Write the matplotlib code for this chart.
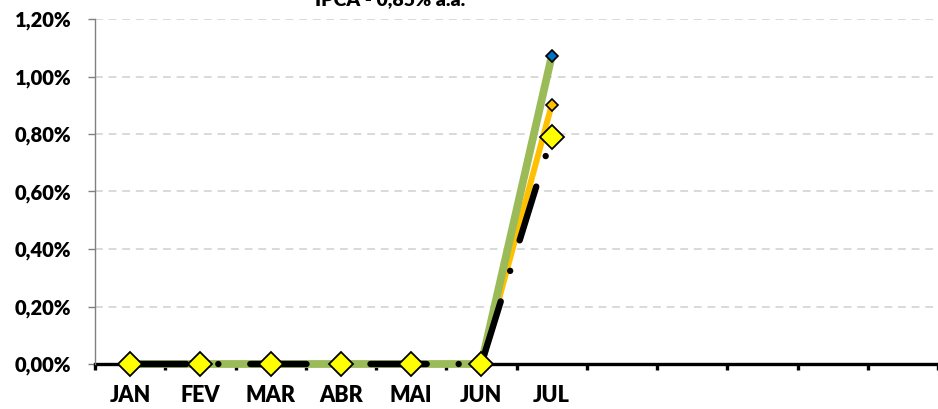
import numpy as np
import matplotlib.pyplot as plt
from matplotlib.ticker import FuncFormatter

meses = ['JAN', 'FEV', 'MAR', 'ABR', 'MAI', 'JUN', 'JUL', '', '', '', '', '']
verde = [0, 0, 0, 0, 0, 0, 1.07]
laranja = [0, 0, 0, 0, 0, 0, 0.90]
preto = [0, 0, 0, 0, 0, 0, 0.79]
titulo = 'IPCA - 0,85% a.a.'

plt.rcParams['font.family'] = ['Lato', 'DejaVu Sans']

fig = plt.figure(figsize=(9.38, 4.09), dpi=100)
ax = fig.add_axes([95/938, 1 - 364/409, 843/938, 345/409])

x = np.arange(len(verde)) + 0.5

ax.plot(x, laranja, color='#FFC000', lw=4.3, solid_capstyle='butt', zorder=3, clip_on=False,
        marker='D', markevery=[6], markersize=6, markerfacecolor='#FFC000',
        markeredgecolor='black', markeredgewidth=1.2)
ax.plot(x, verde, color='#9BBB59', lw=5.6, solid_capstyle='butt', zorder=4, clip_on=False,
        marker='D', markevery=[6], markersize=6.5, markerfacecolor='#0070C0',
        markeredgecolor='black', markeredgewidth=1.2)
ax.plot(x, preto, color='black', lw=4.6, linestyle=(0, (8.8, 5.0, 0.01, 5.0)),
        dash_capstyle='round', zorder=5, clip_on=False)
ax.plot(x, preto, linestyle='none', marker='D', markersize=12, clip_on=False,
        markerfacecolor='#FFFF00', markeredgecolor='black', markeredgewidth=1.3, zorder=6)

ax.set_xlim(0, 12)
ax.set_ylim(0, 1.2)
ax.set_yticks(np.arange(0, 1.21, 0.2))
ax.yaxis.set_major_formatter(FuncFormatter(lambda v, p: f'{v:.2f}%'.replace('.', ',')))
ax.set_xticks(np.arange(0, 13))
ax.set_xticklabels([])
ax.set_xticks(np.arange(12) + 0.5, minor=True)
ax.set_xticklabels(meses, minor=True)

ax.grid(axis='y', color='#D9D9D9', lw=1.4, linestyle=(0, (4, 3)))
ax.set_axisbelow(True)

for s in ['top', 'right']:
    ax.spines[s].set_visible(False)
ax.spines['left'].set_color('#808080')
ax.spines['left'].set_linewidth(1.0)
ax.spines['bottom'].set_color('black')
ax.spines['bottom'].set_linewidth(2.4)
ax.spines['bottom'].set_zorder(2)

ax.tick_params(axis='y', colors='#808080', length=5, width=1, pad=12,
               labelcolor='black', labelsize=14.5)
ax.tick_params(axis='x', which='major', colors='black', length=4, width=2.4, direction='out')
ax.tick_params(axis='x', which='minor', length=0, pad=15, labelsize=15.5)
for lab in ax.get_yticklabels() + ax.get_xticklabels(minor=True):
    lab.set_fontweight('heavy')

# legenda cortada no topo
fig.text(268/938, 1 - 5/409, '—', ha='left', va='baseline', fontsize=14, fontweight='heavy')
fig.text(315/938, 1 - 5/409, titulo, ha='left', va='baseline', fontsize=14, fontweight='heavy')

fig.savefig('out.png', dpi=100)
